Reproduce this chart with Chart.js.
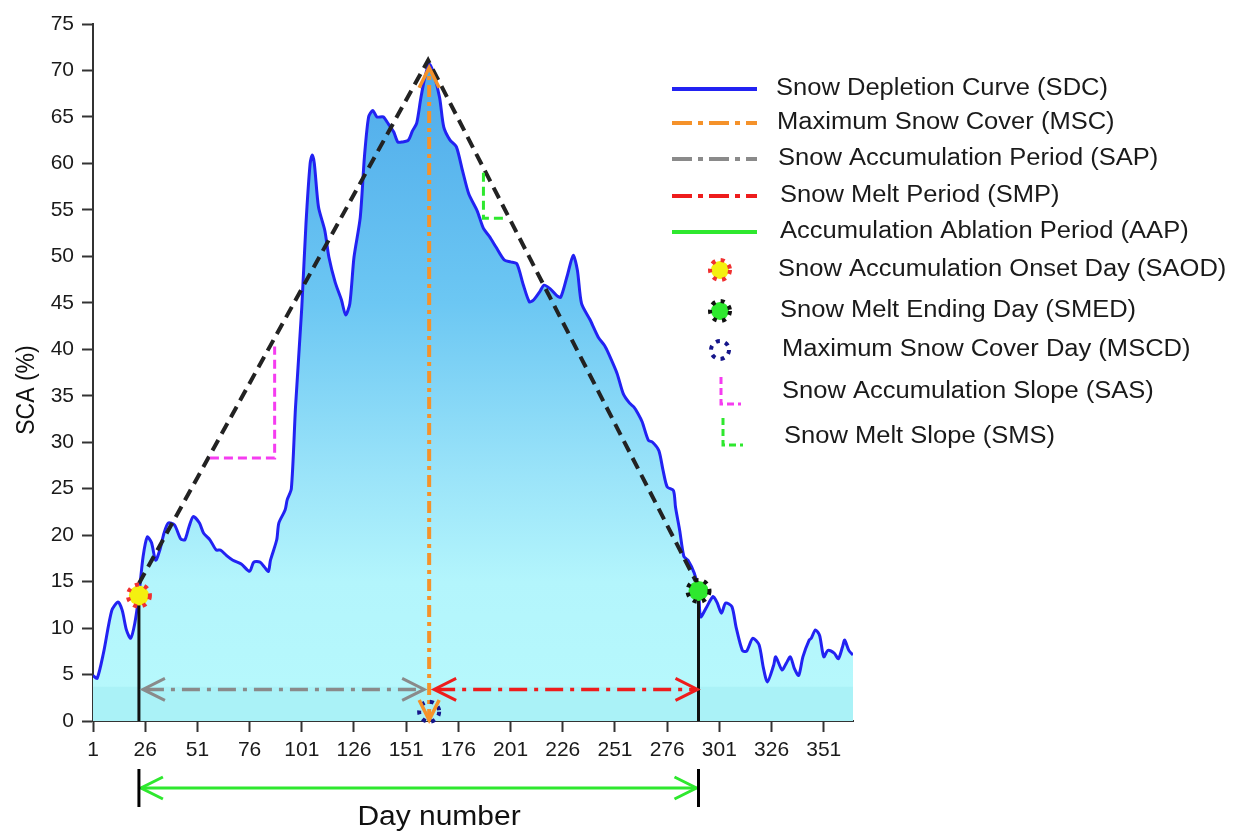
<!DOCTYPE html>
<html lang="en">
<head>
  <meta charset="UTF-8">
  <title>Snow Depletion Curve</title>
  <meta name="viewport" content="width=device-width, initial-scale=1">

  <!-- Chart.js -->
  <script src="https://cdn.jsdelivr.net/npm/chart.js"></script>

  <style>
    html, body {
      margin: 0;
      padding: 0;
      background-color: #ffffff;
    }
    .chart-container {
      position: relative;
      width: 1248px;
      height: 834px;
    }
  </style>
</head>
<body>

<div class="chart-container">
  <canvas id="sdcChart"></canvas>
</div>

<script>
  // Snow covered area (%) over the hydrological year
  const sdcDays = [
    1, 3, 6, 10, 13, 15, 17, 19, 21, 23, 25, 27, 29, 31, 33, 35, 37, 40, 43, 45,
    47, 49, 52, 54, 57, 60, 62, 65, 68, 72, 76, 78, 81, 83, 85, 86, 89, 90, 93, 94,
    96, 98, 101, 103, 105, 106, 107, 109, 112, 114, 117, 120, 122, 124, 126, 129, 131, 133, 135, 137,
    140, 142, 145, 147, 149, 152, 154, 156, 158, 160, 162, 164, 167, 169, 172, 175, 178, 181, 185, 188,
    191, 194, 198, 201, 204, 207, 210, 212, 215, 217, 220, 223, 225, 228, 231, 233, 235, 239, 243, 246,
    248, 252, 255, 258, 260, 262, 264, 267, 269, 272, 274, 276, 279, 280, 282, 284, 286, 289, 291, 292,
    295, 298, 300, 302, 304, 307, 309, 312, 314, 317, 320, 322, 324, 327, 328, 331, 333, 335, 337, 339,
    341, 344, 345, 347, 349, 351, 353, 356, 358, 360, 361, 363, 365
  ];
  const sdcValues = [
    4.9, 4.6, 7.3, 11.9, 12.8, 11.9, 9.8, 8.9, 10.5, 13.6, 17.7, 19.8, 19.2, 17.3, 18.4, 20.2, 21.3, 21.1, 19.6, 19.5,
    20.9, 22.0, 21.3, 20.2, 19.5, 18.4, 18.4, 17.8, 17.3, 16.9, 16.1, 17.1, 17.1, 16.6, 16.1, 17.3, 19.5, 21.3, 22.7, 23.8,
    25.0, 33.8, 44.5, 53.5, 60.0, 60.9, 60.0, 55.3, 52.8, 49.9, 47.2, 45.3, 43.7, 44.9, 49.9, 54.2, 60.7, 65.0, 65.7, 65.0,
    65.0, 64.4, 63.4, 62.3, 62.3, 62.5, 63.5, 64.3, 67.0, 69.3, 70.7, 69.8, 67.1, 63.9, 62.5, 61.8, 59.2, 56.7, 54.9, 53.0,
    52.1, 51.0, 49.6, 49.4, 49.2, 47.0, 45.1, 45.3, 46.2, 46.9, 46.5, 45.8, 45.6, 47.8, 50.1, 48.5, 44.9, 43.2, 41.3, 40.4,
    39.5, 37.4, 35.2, 34.2, 33.8, 33.1, 32.2, 30.2, 30.0, 29.1, 27.0, 25.2, 24.8, 23.0, 20.5, 17.7, 17.3, 15.9, 14.1, 11.2,
    12.3, 13.4, 12.7, 11.6, 12.7, 12.3, 10.1, 7.6, 7.5, 8.9, 8.2, 5.8, 4.2, 6.0, 6.9, 5.5, 6.2, 6.9, 5.6, 4.9,
    6.9, 8.7, 8.9, 9.8, 9.2, 6.9, 7.6, 7.3, 6.7, 8.0, 8.7, 7.6, 7.1
  ];

  const xTickValues = [1, 26, 51, 76, 101, 126, 151, 176, 201, 226, 251, 276, 301, 326, 351];

  // key days: onset of accumulation, maximum snow cover, end of melt
  const saodDay = 23;
  const saodSca = 13.5;
  const mscDay = 162;
  const mscSca = 70.3;
  const mscdSca = 1;
  const smedDay = 291;
  const smedSca = 14;

  // accumulation / melt trend lines
  const trendDays = [23, 161.5, 291];
  const trendValues = [14.8, 71.1, 14.5];

  // slope triangles (SAS and SMS)
  const sasDays = [57, 88, 88];
  const sasValues = [28.3, 28.3, 40.3];
  const smsDays = [188, 188, 199];
  const smsValues = [59.0, 54.1, 54.1];

  // level of the SAP / SMP arrows
  const periodArrowSca = 3.4;

  const xTitle = 'Day number';
  const yTitle = 'SCA (%)';

  const legendLabels = [
    'Snow Depletion Curve (SDC)',
    'Maximum Snow Cover (MSC)',
    'Snow Accumulation Period (SAP)',
    'Snow Melt Period (SMP)',
    'Accumulation Ablation Period (AAP)',
    'Snow Accumulation Onset Day (SAOD)',
    'Snow Melt Ending Day (SMED)',
    'Maximum Snow Cover Day (MSCD)',
    'Snow Accumulation Slope (SAS)',
    'Snow Melt Slope (SMS)'
  ];

  const FONT = "'Liberation Sans', Arial, sans-serif";
  // text in this figure is set a little wider than the regular face
  const TEXT_STRETCH = 1.11;
  const COLORS = {
    sdc: '#2222f2',
    msc: '#f5922a',
    sap: '#8a8a8a',
    smp: '#ee1c1c',
    aap: '#2ee82e',
    sas: '#f53cf0',
    sms: '#2ee82e',
    navy: '#15158a',
    yellow: '#f4f010',
    axis: '#333333'
  };

  const toPoints = (xs, ys) => xs.map((d, i) => ({ x: d, y: ys[i] }));

  function areaGradient(context) {
    const chart = context.chart;
    const area = chart.chartArea;
    if (!area) return '#9de5f9';
    const g = chart.ctx.createLinearGradient(0, area.top, 0, area.bottom);
    g.addColorStop(0, '#46a2e5');
    g.addColorStop(0.1, '#52aeeb');
    g.addColorStop(0.4, '#6cc7f3');
    g.addColorStop(0.65, '#9be4f9');
    g.addColorStop(0.8, '#b3f5fc');
    g.addColorStop(0.95, '#b6f8fc');
    g.addColorStop(0.952, '#aaf2f7');
    g.addColorStop(1, '#aaf2f7');
    return g;
  }

  // open "V" arrow head, tip at (x, y) pointing along (dx, dy)
  function arrowHead(ctx, x, y, dx, dy, len, half) {
    const nx = -dy, ny = dx;
    ctx.beginPath();
    ctx.moveTo(x - dx * len + nx * half, y - dy * len + ny * half);
    ctx.lineTo(x, y);
    ctx.lineTo(x - dx * len - nx * half, y - dy * len - ny * half);
    ctx.stroke();
  }

  function dottedMarker(ctx, x, y, r, fill, dotColor, dash) {
    ctx.save();
    if (fill) {
      ctx.fillStyle = fill;
      ctx.beginPath();
      ctx.arc(x, y, r, 0, Math.PI * 2);
      ctx.fill();
    }
    ctx.strokeStyle = dotColor;
    ctx.lineWidth = 4;
    ctx.setLineDash(dash);
    ctx.beginPath();
    ctx.arc(x, y, r + 1, 0, Math.PI * 2);
    ctx.stroke();
    ctx.restore();
  }

  // widened text, anchored at its left edge or centre
  function wideText(ctx, text, x, y, align) {
    ctx.save();
    ctx.translate(x, y);
    ctx.scale(TEXT_STRETCH, 1);
    ctx.textAlign = align;
    ctx.fillText(text, 0, 0);
    ctx.restore();
  }

  const overlayPlugin = {
    id: 'sdcOverlay',
    afterDraw(chart) {
      const ctx = chart.ctx;
      const xs = chart.scales.x;
      const ys = chart.scales.y;
      const px = d => xs.getPixelForValue(d);
      const py = v => ys.getPixelForValue(v);

      ctx.save();
      ctx.lineCap = 'butt';

      // SAP and SMP arrows
      const ay = py(periodArrowSca);
      const periods = [
        { from: px(saodDay) + 4, to: px(mscDay) - 5, color: COLORS.sap },
        { from: px(mscDay) + 5, to: px(smedDay) - 1, color: COLORS.smp }
      ];
      periods.forEach(p => {
        ctx.strokeStyle = p.color;
        ctx.lineWidth = 3.5;
        ctx.setLineDash([18, 7, 4, 7]);
        ctx.beginPath();
        ctx.moveTo(p.from + 3, ay);
        ctx.lineTo(p.to - 3, ay);
        ctx.stroke();
        ctx.setLineDash([]);
        ctx.lineWidth = 3;
        arrowHead(ctx, p.from, ay, -1, 0, 22, 11);
        arrowHead(ctx, p.to, ay, 1, 0, 22, 11);
      });

      // markers on the curve
      dottedMarker(ctx, px(saodDay), py(saodSca), 10, COLORS.yellow, '#f03030', [4, 5.5]);
      dottedMarker(ctx, px(smedDay), py(smedSca), 10, COLORS.aap, '#111111', [4, 5.5]);
      dottedMarker(ctx, px(mscDay), py(mscdSca), 9, null, COLORS.navy, [4, 5.5]);

      // MSC arrow heads (top and bottom)
      ctx.strokeStyle = COLORS.msc;
      ctx.lineWidth = 3.5;
      arrowHead(ctx, px(mscDay), py(mscSca), 0, -1, 20, 10);
      arrowHead(ctx, px(mscDay), py(0) - 1, 0, 1, 20, 10);

      // AAP arrow below the day axis
      const gy = xs.top + 67;
      const gl = px(saodDay) + 2;
      const gr = px(smedDay) - 2;
      ctx.strokeStyle = COLORS.aap;
      ctx.lineWidth = 3;
      ctx.beginPath();
      ctx.moveTo(gl, gy);
      ctx.lineTo(gr, gy);
      ctx.stroke();
      arrowHead(ctx, gl, gy, -1, 0, 22, 11);
      arrowHead(ctx, gr, gy, 1, 0, 22, 11);
      ctx.strokeStyle = '#000000';
      ctx.lineWidth = 3;
      [px(saodDay), px(smedDay)].forEach(bx => {
        ctx.beginPath();
        ctx.moveTo(bx, xs.top + 48);
        ctx.lineTo(bx, xs.top + 86);
        ctx.stroke();
      });

      // axis titles
      ctx.fillStyle = '#111111';
      ctx.textBaseline = 'middle';
      ctx.font = '27px ' + FONT;
      wideText(ctx, xTitle, 439, 818, 'center');

      ctx.save();
      ctx.translate(27, 390);
      ctx.rotate(-Math.PI / 2);
      ctx.scale(1, TEXT_STRETCH);
      ctx.font = '23px ' + FONT;
      ctx.textAlign = 'center';
      ctx.fillText(yTitle, 0, 0);
      ctx.restore();

      drawLegend(ctx);
      ctx.restore();
    }
  };

  function drawLegend(ctx) {
    const rowY = [89, 123, 159, 196, 232, 270, 311, 350, 392, 437];
    const textX = [776, 777, 778, 780, 780, 778, 780, 782, 782, 784];
    const x0 = 672, x1 = 757;

    ctx.save();
    ctx.lineWidth = 4;
    const lineRow = (i, color, dash) => {
      ctx.strokeStyle = color;
      ctx.setLineDash(dash);
      ctx.beginPath();
      ctx.moveTo(x0, rowY[i]);
      ctx.lineTo(x1, rowY[i]);
      ctx.stroke();
    };
    lineRow(0, COLORS.sdc, []);
    lineRow(1, COLORS.msc, [20, 6, 5, 6]);
    lineRow(2, COLORS.sap, [20, 6, 5, 6]);
    lineRow(3, COLORS.smp, [20, 6, 5, 6]);
    lineRow(4, COLORS.aap, []);
    ctx.setLineDash([]);

    dottedMarker(ctx, 720, rowY[5], 9, COLORS.yellow, '#f03030', [4, 5.5]);
    dottedMarker(ctx, 720, rowY[6], 9, COLORS.aap, '#111111', [4, 5.5]);
    dottedMarker(ctx, 720, rowY[7], 8, null, COLORS.navy, [4, 5.5]);

    // slope icons
    ctx.lineWidth = 3;
    ctx.setLineDash([7, 4]);
    ctx.strokeStyle = COLORS.sas;
    ctx.beginPath();
    ctx.moveTo(721, 377);
    ctx.lineTo(721, 404);
    ctx.lineTo(741, 404);
    ctx.stroke();
    ctx.strokeStyle = COLORS.sms;
    ctx.beginPath();
    ctx.moveTo(723, 418);
    ctx.lineTo(723, 445);
    ctx.lineTo(743, 445);
    ctx.stroke();
    ctx.setLineDash([]);

    ctx.fillStyle = '#1a1a1a';
    ctx.font = '23px ' + FONT;
    ctx.textBaseline = 'middle';
    legendLabels.forEach((label, i) => {
      wideText(ctx, label, textX[i], rowY[i], 'left');
    });
    ctx.restore();
  }

  document.addEventListener("DOMContentLoaded", function () {
    const ctx = document.getElementById('sdcChart').getContext('2d');
    const sdcChart = new Chart(ctx, {
      type: 'line',
      data: {
        datasets: [
          {
            label: 'SAS',
            data: toPoints(sasDays, sasValues),
            borderColor: COLORS.sas,
            borderWidth: 3,
            borderDash: [9, 5],
            pointRadius: 0,
            order: 1
          },
          {
            label: 'SMS',
            data: toPoints(smsDays, smsValues),
            borderColor: COLORS.sms,
            borderWidth: 3,
            borderDash: [9, 5],
            pointRadius: 0,
            order: 1
          },
          {
            label: 'MSC',
            data: toPoints([mscDay, mscDay], [0, mscSca]),
            borderColor: COLORS.msc,
            borderWidth: 4,
            borderDash: [12, 5, 4, 5],
            pointRadius: 0,
            order: 2
          },
          {
            label: 'Trend',
            data: toPoints(trendDays, trendValues),
            borderColor: '#222222',
            borderWidth: 4,
            borderDash: [12, 7],
            pointRadius: 0,
            order: 3
          },
          {
            label: 'SAOD line',
            data: toPoints([saodDay, saodDay], [0, saodSca]),
            borderColor: '#111111',
            borderWidth: 3,
            pointRadius: 0,
            order: 4
          },
          {
            label: 'SMED line',
            data: toPoints([smedDay, smedDay], [0, smedSca]),
            borderColor: '#111111',
            borderWidth: 3,
            pointRadius: 0,
            order: 4
          },
          {
            label: 'SDC',
            data: toPoints(sdcDays, sdcValues),
            borderColor: COLORS.sdc,
            borderWidth: 3,
            backgroundColor: areaGradient,
            fill: 'origin',
            tension: 0.25,
            pointRadius: 0,
            order: 10
          }
        ]
      },
      options: {
        responsive: true,
        maintainAspectRatio: false,
        animation: false,
        layout: {
          padding: { left: 0, right: 395, top: 24, bottom: 0 }
        },
        plugins: {
          legend: { display: false },
          tooltip: { enabled: false }
        },
        scales: {
          x: {
            type: 'linear',
            min: 1,
            max: 365,
            afterBuildTicks: function (scale) {
              scale.ticks = xTickValues.map(v => ({ value: v }));
            },
            afterFit: function (scale) {
              scale.height = 113;
            },
            border: { display: true, color: COLORS.axis, width: 2 },
            grid: {
              drawOnChartArea: false,
              drawTicks: true,
              tickLength: 11,
              tickColor: COLORS.axis,
              tickWidth: 2
            },
            ticks: {
              autoSkip: false,
              maxRotation: 0,
              padding: 6,
              color: '#1a1a1a',
              font: { family: FONT, size: 21 }
            }
          },
          y: {
            min: 0,
            max: 75,
            afterFit: function (scale) {
              scale.width = 93;
            },
            border: { display: true, color: COLORS.axis, width: 2 },
            grid: {
              drawOnChartArea: false,
              drawTicks: true,
              tickLength: 11,
              tickColor: COLORS.axis,
              tickWidth: 2
            },
            ticks: {
              stepSize: 5,
              padding: 8,
              color: '#1a1a1a',
              font: { family: FONT, size: 21 }
            }
          }
        }
      },
      plugins: [overlayPlugin]
    });
  });
</script>

</body>
</html>
